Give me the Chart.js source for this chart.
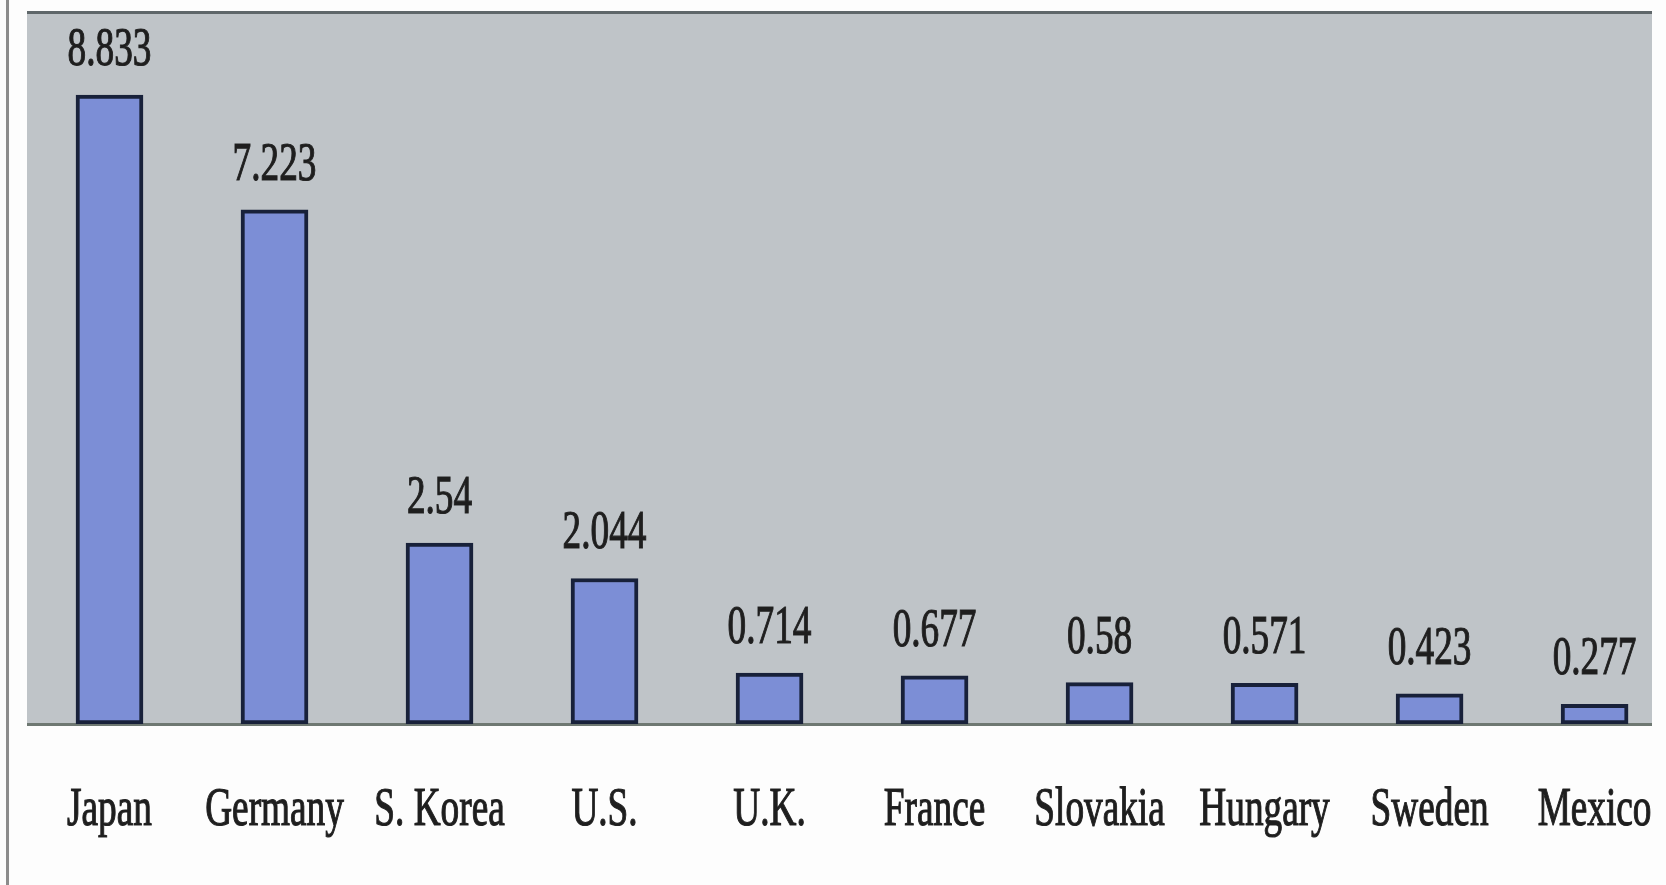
<!DOCTYPE html>
<html>
<head>
<meta charset="utf-8">
<script src="https://cdn.jsdelivr.net/npm/chart.js@4"></script>
<style>
  html, body { margin: 0; padding: 0; background: #fdfdfd; overflow: hidden; }
  canvas { display: block; }
</style>
</head>
<body>
<canvas id="chart" width="1666" height="885"></canvas>
<script>
const COUNTRIES = ['Japan', 'Germany', 'S. Korea', 'U.S.', 'U.K.', 'France', 'Slovakia', 'Hungary', 'Sweden', 'Mexico'];
const VALUES = [8.833, 7.223, 2.54, 2.044, 0.714, 0.677, 0.58, 0.571, 0.423, 0.277];
const VALUE_TEXT = ['8.833', '7.223', '2.54', '2.044', '0.714', '0.677', '0.58', '0.571', '0.423', '0.277'];

// The scanned figure uses a tall, squeezed serif face — fake it by scaling the
// canvas horizontally while drawing each string, with a thin stroke so it
// looks as heavy as the blurry print.
const TEXT_FONT = '54px "Liberation Serif", "DejaVu Serif", serif';
const SQUEEZE = 0.69;

function squeezedText(ctx, text, x, y) {
  ctx.save();
  ctx.translate(x, y);
  ctx.scale(SQUEEZE, 1);
  ctx.strokeText(text, 0, 0);
  ctx.fillText(text, 0, 0);
  ctx.restore();
}

const scanPlugin = {
  id: 'scanLook',
  beforeDraw(chart) {
    const { ctx, chartArea: a } = chart;
    ctx.save();
    ctx.fillStyle = '#bfc4c8';
    ctx.fillRect(a.left, a.top, a.right - a.left, a.bottom - a.top);
    ctx.fillStyle = '#5f676a';
    ctx.fillRect(a.left, a.top - 1, a.right - a.left, 3);
    ctx.fillStyle = '#6e7872';
    ctx.fillRect(a.left, a.bottom - 1, a.right - a.left, 3);
    // page edge line on the far left
    ctx.fillStyle = '#8c8c8c';
    ctx.fillRect(6, 0, 3, chart.height);
    ctx.restore();
  },
  afterDatasetsDraw(chart) {
    const { ctx, scales } = chart;
    const meta = chart.getDatasetMeta(0);
    ctx.save();
    ctx.font = TEXT_FONT;
    ctx.fillStyle = '#1e1e1e';
    ctx.strokeStyle = '#2a2a2a';
    ctx.lineWidth = 1.2;
    ctx.textAlign = 'center';
    ctx.textBaseline = 'alphabetic';
    meta.data.forEach((bar, i) => {
      squeezedText(ctx, VALUE_TEXT[i], bar.x, bar.y - 30);
    });
    COUNTRIES.forEach((name, i) => {
      squeezedText(ctx, name, scales.x.getPixelForValue(i), scales.y.bottom + 101);
    });
    ctx.restore();
  },
};

new Chart(document.getElementById('chart'), {
  type: 'bar',
  data: {
    datasets: [
      {
        data: VALUES.map((v, i) => ({ x: i, y: v })),
        backgroundColor: '#7c8ed6',
        borderColor: '#18213a',
        borderWidth: 4,
        borderSkipped: false,
        barThickness: 67,
      },
    ],
  },
  options: {
    responsive: false,
    animation: false,
    layout: { padding: { left: 27, right: 14, top: 12, bottom: 161 } },
    plugins: { legend: { display: false }, tooltip: { enabled: false } },
    scales: {
      x: {
        type: 'linear',
        min: -0.5,
        max: 9.348,
        offset: false,
        display: false,
        grid: { display: false },
      },
      y: {
        min: 0,
        max: 10,
        display: false,
        grid: { display: false },
      },
    },
  },
  plugins: [scanPlugin],
});
</script>
</body>
</html>
